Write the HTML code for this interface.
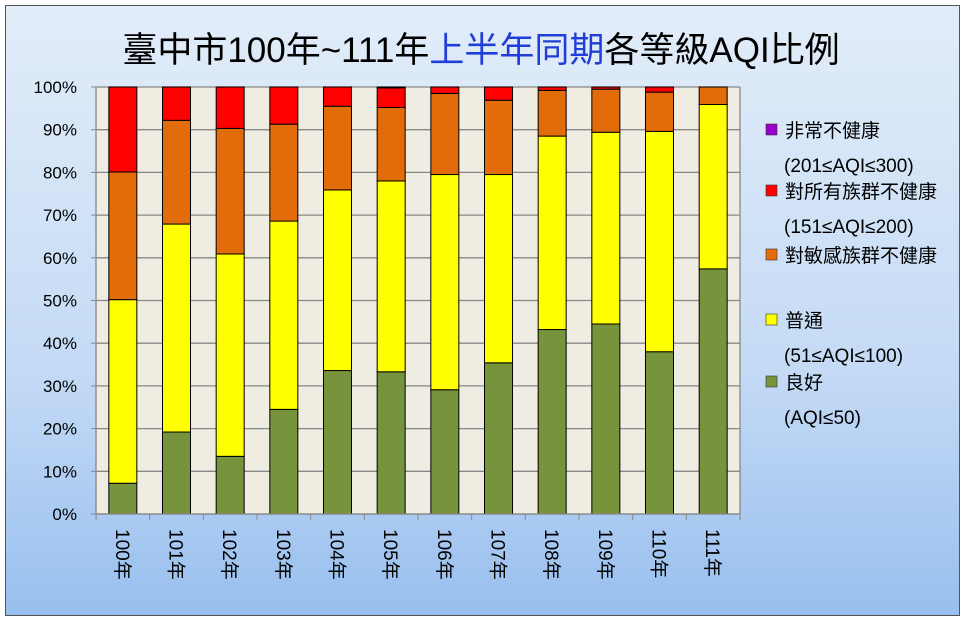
<!DOCTYPE html>
<html><head><meta charset="utf-8">
<style>
html,body{margin:0;padding:0;}
body{width:965px;height:622px;overflow:hidden;font-family:"Liberation Sans","Noto Sans CJK TC",sans-serif;}
</style></head>
<body>
<svg width="965" height="622" xmlns="http://www.w3.org/2000/svg" font-family="'Liberation Sans','Noto Sans CJK TC',sans-serif">
<defs>
<linearGradient id="bg" x1="0" y1="0" x2="0" y2="1">
<stop offset="0" stop-color="#e2edf9"/><stop offset="0.6" stop-color="#c4daf5"/><stop offset="1" stop-color="#98bfef"/>
</linearGradient>
</defs>
<rect x="5.5" y="5.5" width="954" height="610" fill="url(#bg)" stroke="#555" stroke-width="1"/>
<text x="481" y="62" font-size="35" text-anchor="middle" fill="#000">臺中市100年~111年<tspan fill="#1f3fd8">上半年同期</tspan>各等級AQI比例</text>
<rect x="96" y="87" width="644" height="427" fill="#efece2"/>
<g id="grid"></g>
<g id="bars"></g>
<g id="axes"></g>
<g id="legend"></g>
</svg>
<script>
const categories=["100年","101年","102年","103年","104年","105年","106年","107年","108年","109年","110年","111年"];
const good=[7.2,19.2,13.5,24.5,33.6,33.3,29.1,35.4,43.2,44.5,38.0,57.4];
const moderate=[43.0,48.7,47.4,44.1,42.3,44.7,50.4,44.1,45.3,44.9,51.6,38.5];
const sensitive=[29.9,24.3,29.4,22.7,19.6,17.2,19.0,17.4,10.7,10.1,9.2,4.1];
const unhealthy=[19.9,7.8,9.7,8.7,4.5,4.6,1.5,3.1,0.8,0.5,1.2,0];
const veryUnhealthy=[0,0,0,0,0,0.2,0,0,0,0,0,0];
const yTicks=["0%","10%","20%","30%","40%","50%","60%","70%","80%","90%","100%"];
const NS="http://www.w3.org/2000/svg";
const L=96,R=740,T=87,B=514;
const y=v=>B-(B-T)*v/100;
const step=(R-L)/categories.length;
const xc=i=>L+step*(i+0.5);
function mk(tag,attrs,parent){const e=document.createElementNS(NS,tag);for(const k in attrs)e.setAttribute(k,attrs[k]);parent.appendChild(e);return e;}
const grid=document.getElementById('grid'),bars=document.getElementById('bars'),axes=document.getElementById('axes'),legend=document.getElementById('legend');
yTicks.forEach((t,i)=>{const v=i*10;
 const g=mk('line',{x1:L,x2:R,y1:y(v),y2:y(v),stroke:'#888','stroke-width':1.3},grid);
 
 
 const tk=mk('line',{x1:L-5,x2:L,y1:y(v),y2:y(v),stroke:'#888'},axes);
 
 
 const tx=mk('text',{x:77,y:y(v)+6,'font-size':17,'text-anchor':'end',fill:'#000'},axes);tx.textContent=t;
 
 
});
mk('line',{x1:L,x2:L,y1:T,y2:B,stroke:'#888','stroke-width':1.3},axes);
mk('line',{x1:R,x2:R,y1:T,y2:B,stroke:'#888','stroke-width':1.3},axes);
mk('line',{x1:L,x2:R,y1:B,y2:B,stroke:'#888','stroke-width':1.3},axes);
for(let i=0;i<=categories.length;i++){const t=mk('line',{x1:L+step*i,x2:L+step*i,y1:B,y2:B+6,stroke:'#888'},axes);
 
 }
const series=[[good,'#77933c','good'],[moderate,'#ffff00','moderate'],[sensitive,'#e36c0a','sensitive'],[unhealthy,'#ff0000','unhealthy'],[veryUnhealthy,'#9900cc','very-unhealthy']];
categories.forEach((c,i)=>{let acc=0;
 series.forEach(([arr,col,nm])=>{const v=arr[i];if(v<=0)return;
  const r=mk('rect',{x:xc(i)-14,width:28,y:y(acc+v),height:y(acc)-y(acc+v),fill:col,stroke:'#000','stroke-width':1},bars);
  
  
  acc+=v;});
 const tx=mk('text',{x:0,y:0,'font-size':19,fill:'#000',transform:`translate(${xc(i)-7},529) rotate(90)`},axes);tx.textContent=c;
 
 
});
const leg=[['#9900cc','非常不健康','(201≤AQI≤300)',130],['#ff0000','對所有族群不健康','(151≤AQI≤200)',191],['#e36c0a','對敏感族群不健康','',255],['#ffff00','普通','(51≤AQI≤100)',320],['#77933c','良好','(AQI≤50)',382]];
leg.forEach(([col,a,b,yy])=>{
 const s=mk('rect',{x:766,y:yy-6,width:11,height:11,fill:col,stroke:'#333','stroke-width':0.6},legend);
 
 
 const t=mk('text',{x:785,y:yy+7,'font-size':19,fill:'#000'},legend);t.textContent=a;
 
 
 if(b){const t2=mk('text',{x:784,y:yy+42,'font-size':19,fill:'#000'},legend);t2.textContent=b;
 
 }
});
</script>
</body></html>
